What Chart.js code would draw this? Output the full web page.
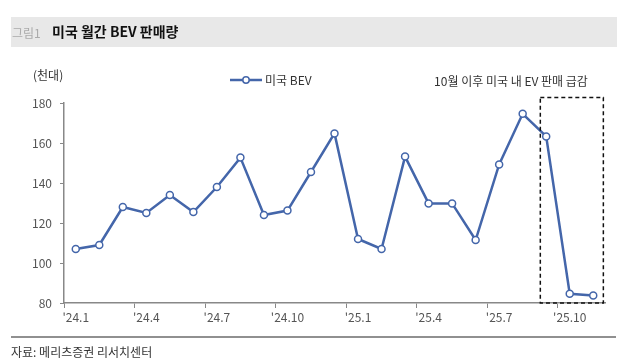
<!DOCTYPE html>
<html>
<head>
<meta charset="utf-8">
<script src="https://cdn.jsdelivr.net/npm/chart.js@4"></script>
<style>
  html, body { margin: 0; padding: 0; background: #fff; }
  #wrap { width: 640px; height: 360px; position: relative; }
</style>
</head>
<body>
<div id="wrap"><canvas id="chart" width="640" height="360"></canvas></div>
<script>
const months = [
  "'24.1", "'24.2", "'24.3", "'24.4", "'24.5", "'24.6", "'24.7", "'24.8", "'24.9", "'24.10", "'24.11", "'24.12",
  "'25.1", "'25.2", "'25.3", "'25.4", "'25.5", "'25.6", "'25.7", "'25.8", "'25.9", "'25.10", "'25.11"
];
const usBev = [
  107, 109, 128, 125, 134, 125.5, 138, 152.7, 124, 126.2, 145.5, 164.8,
  112, 107, 153.2, 129.8, 129.8, 111.5, 149.3, 174.6, 163.3, 84.6, 83.8
];
const yTicks = [80, 100, 120, 140, 160, 180];

const FONT = "'Noto Sans CJK KR', 'Noto Sans', sans-serif";
const blue = '#4466aa';

// title bar, legend, note, dashed box, footer
const decor = {
  id: 'decor',
  beforeDraw(chart) {
    const c = chart.ctx;
    c.save();
    c.fillStyle = '#e8e8e8';
    c.fillRect(11, 17, 606, 30);
    c.textBaseline = 'middle';
    c.fillStyle = '#aaaaaa';
    c.font = '12px ' + FONT;
    c.fillText('그림1', 12, 33);
    c.fillStyle = '#111';
    c.font = 'bold 14px ' + FONT;
    c.fillText('미국 월간 BEV 판매량', 52, 32);
    c.restore();
  },
  afterDraw(chart) {
    const c = chart.ctx;
    const x = chart.scales.x, y = chart.scales.y;
    c.save();
    c.textBaseline = 'middle';
    c.fillStyle = '#333';
    c.font = '12px ' + FONT;
    c.fillText('(천대)', 33, 75);

    // legend
    c.strokeStyle = blue;
    c.lineWidth = 2.5;
    c.beginPath(); c.moveTo(230, 80); c.lineTo(262, 80); c.stroke();
    c.fillStyle = '#fff';
    c.lineWidth = 1.5;
    c.beginPath(); c.arc(246, 80, 3.2, 0, Math.PI * 2); c.fill(); c.stroke();
    c.fillStyle = '#333';
    c.fillText('미국 BEV', 265, 80);

    c.textAlign = 'center';
    c.fillText('10월 이후 미국 내 EV 판매 급감', 511, 81);

    // dashed highlight box around the last months
    const left = x.getPixelForValue(19.75);
    const right = x.getPixelForValue(22.43);
    const top = y.getPixelForValue(182.8);
    const bottom = y.getPixelForValue(80);
    c.setLineDash([4, 3]);
    c.strokeStyle = '#111';
    c.lineWidth = 1.5;
    c.strokeRect(left, top, right - left, bottom - top);
    c.setLineDash([]);

    // footer
    c.strokeStyle = '#222';
    c.lineWidth = 1.2;
    c.beginPath(); c.moveTo(11, 337); c.lineTo(616, 337); c.stroke();
    c.textAlign = 'left';
    c.fillStyle = '#333';
    c.font = '12px ' + FONT;
    c.fillText('자료: 메리츠증권 리서치센터', 11, 352);
    c.restore();
  }
};

new Chart(document.getElementById('chart'), {
  type: 'line',
  data: {
    labels: months,
    datasets: [{
      label: '미국 BEV',
      data: usBev,
      borderColor: blue,
      borderWidth: 2.5,
      pointBackgroundColor: '#fff',
      pointBorderColor: blue,
      pointBorderWidth: 1.5,
      pointRadius: 3.5,
      tension: 0
    }]
  },
  options: {
    responsive: false,
    animation: false,
    layout: { padding: { left: 0, right: 35, top: 103, bottom: 0 } },
    plugins: { legend: { display: false }, tooltip: { enabled: false } },
    scales: {
      x: {
        offset: true,
        afterFit: s => { s.height = 57; },
        grid: {
          offset: true,
          drawOnChartArea: false,
          tickLength: 5,
          color: ctx => (ctx.index % 3 === 0 ? '#888' : 'rgba(0,0,0,0)')
        },
        border: { color: '#888', width: 1.5 },
        ticks: {
          autoSkip: false,
          maxRotation: 0,
          color: '#555',
          font: { family: FONT, size: 12 },
          padding: 2,
          callback: (v, i) => (i % 3 === 0 ? months[i] : '')
        }
      },
      y: {
        min: 80,
        max: 180,
        afterFit: s => { s.width = 64; },
        afterBuildTicks: s => { s.ticks = yTicks.map(v => ({ value: v })); },
        grid: { drawOnChartArea: false, tickLength: 4, color: '#888' },
        border: { color: '#888', width: 1.5 },
        ticks: { color: '#555', font: { family: FONT, size: 12 }, padding: 8 }
      }
    }
  },
  plugins: [decor]
});
</script>
</body>
</html>
